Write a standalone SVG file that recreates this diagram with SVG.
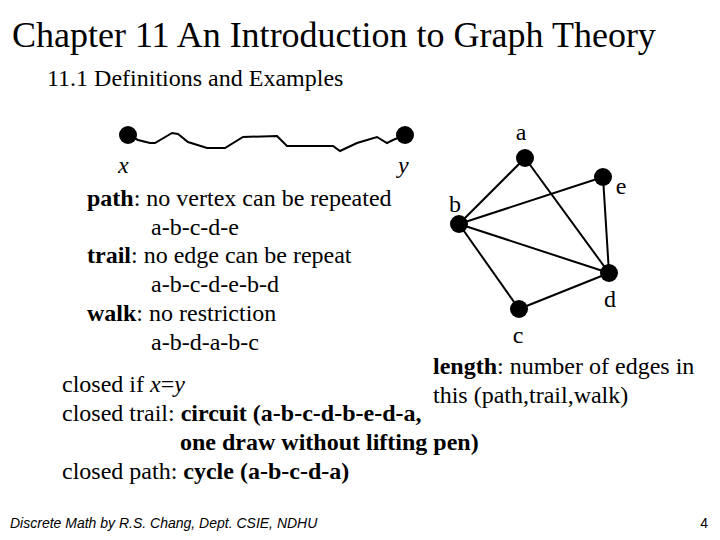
<svg xmlns="http://www.w3.org/2000/svg" width="720" height="540" viewBox="0 0 720 540">
<style>
.t{font-family:"Liberation Serif","Times New Roman",serif;fill:#000}
.s{font-size:24px}
.b{font-weight:bold}
.i{font-style:italic}
.e{stroke:#000;stroke-width:2;fill:none}
.n{fill:#000}
</style>
<rect width="720" height="540" fill="#fff"/>
<text class="t" x="12" y="47" font-size="36">Chapter 11 An Introduction to Graph Theory</text>
<text class="t" x="47" y="86" font-size="24">11.1 Definitions and Examples</text>
<g id="connectors">
<polyline class="e" points="128,135 138,140 150,143 155,143 172,133 178,134 188,142 207,148 225,148 243,137 277,136 287,146 333,146 340,151 357,143 377,137 387,143 393,140 405,135"/>
<line class="e" x1="459" y1="224" x2="525" y2="158"/>
<line class="e" x1="525" y1="158" x2="609" y2="273"/>
<line class="e" x1="459" y1="224" x2="603" y2="177"/>
<line class="e" x1="603" y1="177" x2="609" y2="273"/>
<line class="e" x1="459" y1="224" x2="609" y2="273"/>
<line class="e" x1="459" y1="224" x2="519" y2="309"/>
<line class="e" x1="519" y1="309" x2="609" y2="273"/>
</g>
<g id="node-x"><circle class="n" cx="128" cy="135" r="9"/><text class="t s i" x="118" y="173">x</text></g>
<g id="node-y"><circle class="n" cx="405" cy="135" r="9"/><text class="t s i" x="398" y="173">y</text></g>
<g id="node-a"><circle class="n" cx="525" cy="158" r="9"/><text class="t s" x="521" y="140" text-anchor="middle">a</text></g>
<g id="node-e"><circle class="n" cx="603" cy="177" r="9"/><text class="t s" x="621" y="194" text-anchor="middle">e</text></g>
<g id="node-b"><circle class="n" cx="459" cy="224" r="9"/><text class="t s" x="455" y="212" text-anchor="middle">b</text></g>
<g id="node-d"><circle class="n" cx="609" cy="273" r="9"/><text class="t s" x="610" y="307" text-anchor="middle">d</text></g>
<g id="node-c"><circle class="n" cx="519" cy="309" r="9"/><text class="t s" x="518" y="343" text-anchor="middle">c</text></g>
<g id="text">
<text class="t s" x="87" y="206"><tspan class="b">path</tspan>: no vertex can be repeated</text>
<text class="t s" x="151" y="235">a-b-c-d-e</text>
<text class="t s" x="87" y="263"><tspan class="b">trail</tspan>: no edge can be repeat</text>
<text class="t s" x="151" y="292">a-b-c-d-e-b-d</text>
<text class="t s" x="87" y="321"><tspan class="b">walk</tspan>: no restriction</text>
<text class="t s" x="151" y="350">a-b-d-a-b-c</text>
<text class="t s" x="433" y="374"><tspan class="b">length</tspan>: number of edges in</text>
<text class="t s" x="433" y="403">this (path,trail,walk)</text>
<text class="t s" x="62" y="392">closed if <tspan class="i">x</tspan>=<tspan class="i">y</tspan></text>
<text class="t s" x="62" y="421">closed trail: <tspan class="b">circuit (a-b-c-d-b-e-d-a,</tspan></text>
<text class="t s b" x="180" y="450">one draw without lifting pen)</text>
<text class="t s" x="62" y="479">closed path: <tspan class="b">cycle (a-b-c-d-a)</tspan></text>
</g>
<text x="10" y="528" font-family="Liberation Sans,Arial,sans-serif" font-size="14" font-style="italic">Discrete Math by R.S. Chang, Dept. CSIE, NDHU</text>
<text x="708" y="528" font-family="Liberation Sans,Arial,sans-serif" font-size="14" text-anchor="end">4</text>
</svg>
